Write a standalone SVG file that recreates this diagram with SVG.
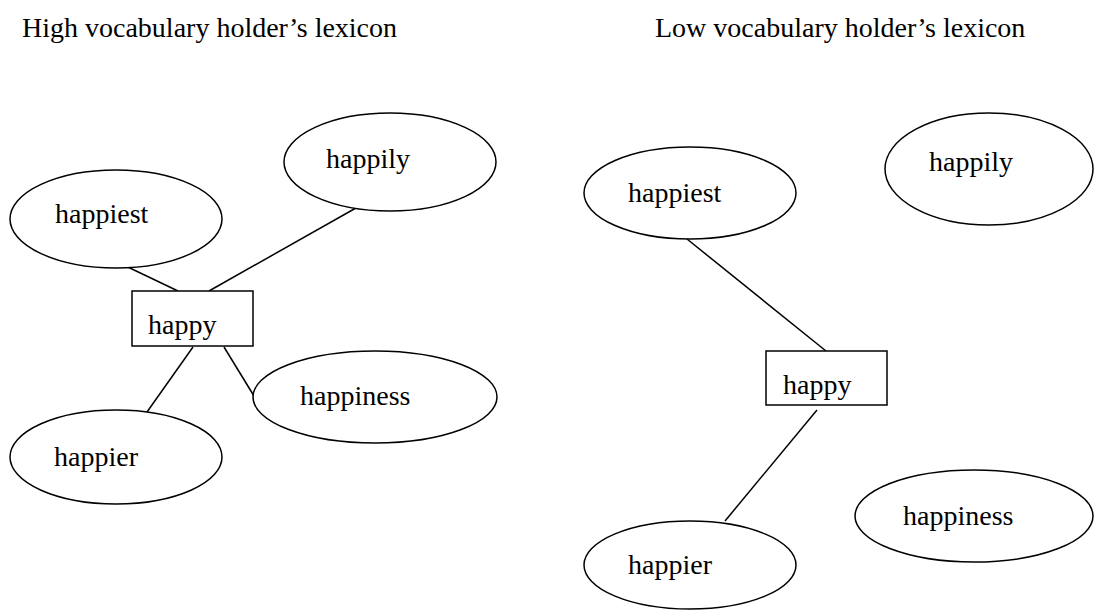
<svg xmlns="http://www.w3.org/2000/svg" width="1097" height="610" viewBox="0 0 1097 610">
<style>
.n{fill:#fff;stroke:#000;stroke-width:1.5}
.c line{stroke:#000;stroke-width:1.5}
text{font-family:"Liberation Serif","Times New Roman",serif;font-size:28px;fill:#000}
</style>
<rect width="1097" height="610" fill="#fff"/>
<text x="22" y="37">High vocabulary holder’s lexicon</text>
<text x="655" y="37">Low vocabulary holder’s lexicon</text>
<g class="c" id="connectors">
<line x1="111" y1="259" x2="178" y2="291"/>
<line x1="363" y1="204" x2="209" y2="291"/>
<line x1="193" y1="347" x2="147" y2="412"/>
<line x1="224" y1="347" x2="254" y2="396"/>
<line x1="687" y1="239" x2="826" y2="351"/>
<line x1="817" y1="410" x2="725" y2="521"/>
</g>
<g id="L-happiest"><ellipse class="n" cx="116" cy="219" rx="106" ry="49"/><text x="55" y="223">happiest</text></g>
<g id="L-happily"><ellipse class="n" cx="390" cy="162" rx="106" ry="49"/><text x="326" y="168">happily</text></g>
<g id="L-happy"><rect class="n" x="132" y="291" width="121" height="55"/><text x="148" y="334">happy</text></g>
<g id="L-happiness"><ellipse class="n" cx="375" cy="397" rx="122" ry="46"/><text x="300" y="405">happiness</text></g>
<g id="L-happier"><ellipse class="n" cx="116" cy="457" rx="106" ry="47"/><text x="54" y="466">happier</text></g>
<g id="R-happiest"><ellipse class="n" cx="690" cy="193" rx="106" ry="46"/><text x="628" y="202">happiest</text></g>
<g id="R-happily"><ellipse class="n" cx="989" cy="169" rx="104" ry="56"/><text x="929" y="171">happily</text></g>
<g id="R-happy"><rect class="n" x="766" y="351" width="121" height="54"/><text x="783" y="394">happy</text></g>
<g id="R-happiness"><ellipse class="n" cx="974" cy="516" rx="119" ry="46"/><text x="903" y="525">happiness</text></g>
<g id="R-happier"><ellipse class="n" cx="690" cy="565" rx="106" ry="44"/><text x="628" y="574">happier</text></g>
</svg>
